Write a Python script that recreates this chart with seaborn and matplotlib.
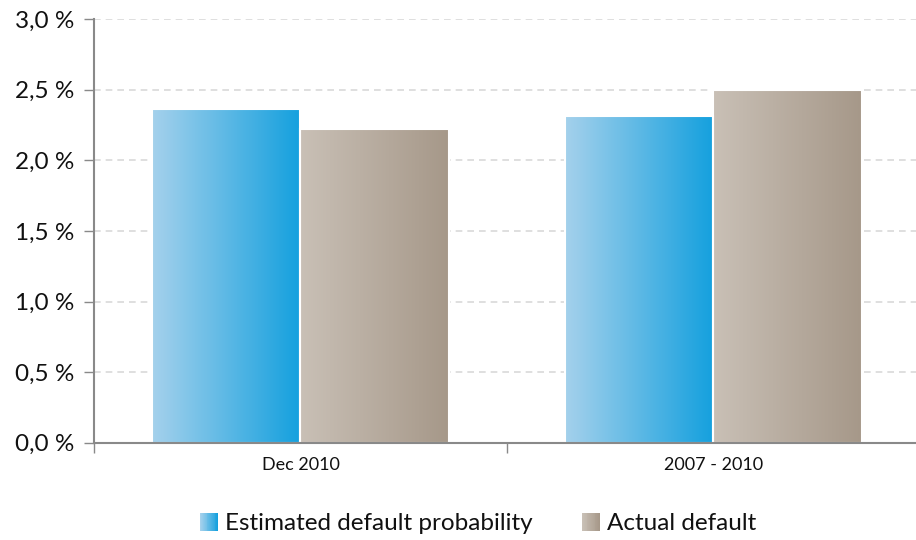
import numpy as np
import pandas as pd
import matplotlib
matplotlib.use("Agg")
import matplotlib.pyplot as plt
import seaborn as sns
from matplotlib.colors import LinearSegmentedColormap, to_rgb
from matplotlib.patches import Rectangle
from matplotlib.legend_handler import HandlerBase
from matplotlib.ticker import FuncFormatter, FixedLocator

categories = ["Dec 2010", "2007 - 2010"]
series_names = ["Estimated default probability", "Actual default"]
estimated = [2.36, 2.31]
actual = [2.22, 2.50]
y_ticks = [0.0, 0.5, 1.0, 1.5, 2.0, 2.5, 3.0]

grad_colors = {
    "Estimated default probability": ("#A5D1EC", "#14A0DE"),
    "Actual default": ("#C9C0B6", "#A69889"),
}

df = pd.DataFrame({
    "category": categories * 2,
    "series": [series_names[0]] * 2 + [series_names[1]] * 2,
    "value": estimated + actual,
})

sns.set_theme(style="white")
plt.rcParams["font.family"] = ["Lato", "DejaVu Sans"]

fig = plt.figure(figsize=(9.16, 5.40), dpi=100)
ax = fig.add_axes([0.1026, 0.180, 0.9017, 0.785])

sns.barplot(data=df, x="category", y="value", hue="series", order=categories,
            hue_order=series_names, width=0.72, ax=ax, legend=False,
            palette=[grad_colors[s][1] for s in series_names],
            edgecolor="white", linewidth=1.5, zorder=3)

# gradient fill
for i, cont in enumerate(ax.containers):
    c0, c1 = grad_colors[series_names[i]]
    cmap = LinearSegmentedColormap.from_list("g%d" % i, [c0, c1])
    grad = np.linspace(0, 1, 256).reshape(1, -1)
    for bar in cont:
        x0, y0 = bar.get_x(), bar.get_y()
        w, h = bar.get_width(), bar.get_height()
        bar.set_facecolor("none")
        im = ax.imshow(grad, cmap=cmap, aspect="auto",
                       extent=[x0, x0 + w, y0, y0 + h], zorder=2.9,
                       interpolation="bicubic")
        im.set_clip_path(bar)

ax.set_xlim(-0.5, 1.5)
ax.set_ylim(0, 3.0)
ax.set_yticks(y_ticks)
ax.yaxis.set_major_formatter(FuncFormatter(lambda v, p: ("%.1f %%" % v).replace(".", ",")))
ax.tick_params(axis="y", labelsize=17.5, length=7, width=1, color="#898989",
               direction="out", pad=7, left=True, labelcolor="#111111")
ax.tick_params(axis="x", which="major", length=0, labelsize=13, pad=10, labelcolor="#111111")
ax.xaxis.set_minor_locator(FixedLocator([-0.5, 0.5, 1.5]))
ax.tick_params(axis="x", which="minor", length=7, width=1, color="#898989",
               direction="out", bottom=True)

ax.set_xlabel("")
ax.set_ylabel("")
ax.grid(axis="y", color="#D9D9D9", linestyle=(0, (4, 3)), linewidth=1.2, zorder=0)
ax.set_axisbelow(True)
for s in ["top", "right"]:
    ax.spines[s].set_visible(False)
for s in ["left", "bottom"]:
    ax.spines[s].set_color("#898989")
    ax.spines[s].set_linewidth(1.5)
    ax.spines[s].set_zorder(5)


class GradientHandler(HandlerBase):
    def __init__(self, c0, c1, n=20):
        super().__init__()
        self.c0, self.c1, self.n = to_rgb(c0), to_rgb(c1), n

    def create_artists(self, legend, orig_handle, xdescent, ydescent, width,
                       height, fontsize, trans):
        size = min(width, height)
        x0 = -xdescent + width - size
        y0 = -ydescent + (height - size) / 2
        arts = []
        for k in range(self.n):
            t = k / (self.n - 1)
            col = tuple(a + (b - a) * t for a, b in zip(self.c0, self.c1))
            r = Rectangle((x0 + size * k / self.n, y0), size / self.n * 1.05, size,
                          facecolor=col, edgecolor="none", transform=trans)
            arts.append(r)
        return arts


handles = [Rectangle((0, 0), 1, 1) for _ in series_names]
hmap = {h: GradientHandler(*grad_colors[s]) for h, s in zip(handles, series_names)}
fig.legend(handles, series_names, handler_map=hmap, loc="center",
           bbox_to_anchor=(0.522, 0.030), ncol=2, frameon=False, fontsize=17.5,
           handlelength=0.75, handleheight=0.75, handletextpad=0.3, columnspacing=2.0,
           labelcolor="#111111", borderpad=0)

fig.savefig("out.png", dpi=100)
